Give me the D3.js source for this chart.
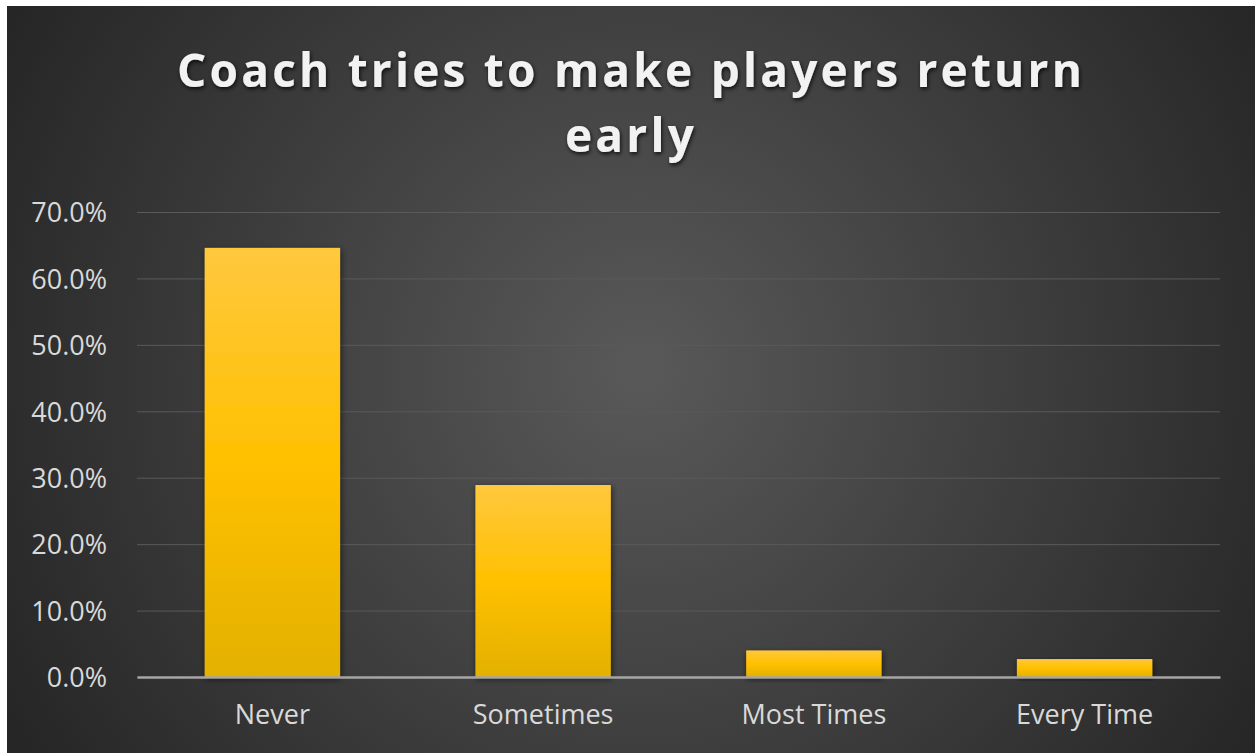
<!DOCTYPE html>
<html><head><meta charset="utf-8">
<script src="https://cdn.jsdelivr.net/npm/d3@7"></script>
<style>
html,body{margin:0;padding:0;background:#fff;}
svg{display:block;}
</style></head>
<body>
<script>
const categories = ["Never", "Sometimes", "Most Times", "Every Time"];
const values = [0.646, 0.289, 0.040, 0.027];
const yTicks = [0, 0.1, 0.2, 0.3, 0.4, 0.5, 0.6, 0.7];
const titleLines = ["Coach tries to make players return", "early"];

const W = 1255, H = 753;
const FONT = "'Open Sans', 'Noto Sans', sans-serif";
const svg = d3.select("body").append("svg").attr("width", W).attr("height", H);
const defs = svg.append("defs");

const bg = defs.append("radialGradient").attr("id", "bg")
  .attr("gradientUnits", "userSpaceOnUse")
  .attr("cx", 640).attr("cy", 370).attr("r", 720);
bg.append("stop").attr("offset", "0").attr("stop-color", "#595959");
bg.append("stop").attr("offset", "1").attr("stop-color", "#262626");

const bar = defs.append("linearGradient").attr("id", "bar")
  .attr("x1", 0).attr("y1", 0).attr("x2", 0).attr("y2", 1);
bar.append("stop").attr("offset", "0").attr("stop-color", "#ffc83e");
bar.append("stop").attr("offset", "0.5").attr("stop-color", "#ffc000");
bar.append("stop").attr("offset", "1").attr("stop-color", "#e3b100");

const sh = defs.append("filter").attr("id", "sh").attr("x", "-20%").attr("y", "-20%").attr("width", "140%").attr("height", "140%");
sh.append("feGaussianBlur").attr("in", "SourceAlpha").attr("stdDeviation", 3);
sh.append("feOffset").attr("dx", 1).attr("dy", 2).attr("result", "b");
sh.append("feComponentTransfer").append("feFuncA").attr("type", "linear").attr("slope", 0.6);
const m = sh.append("feMerge");
m.append("feMergeNode");
m.append("feMergeNode").attr("in", "SourceGraphic");

svg.append("rect").attr("x", 7).attr("y", 6).attr("width", W - 7).attr("height", H - 6).attr("fill", "url(#bg)");

const margin = {left: 137, right: 1220, top: 212, bottom: 677};
const x = d3.scaleBand().domain(categories).range([margin.left, margin.right]).paddingInner(0.5).paddingOuter(0.25);
const y = d3.scaleLinear().domain([0, 0.7]).range([margin.bottom, margin.top]);

// gridlines
const grid = svg.append("g").attr("transform", `translate(${margin.left},0)`)
  .call(d3.axisLeft(y).tickValues(yTicks).tickSize(-(margin.right - margin.left)).tickFormat(""));
grid.select(".domain").remove();
grid.selectAll("line").attr("stroke", "#5a5a5a").attr("stroke-width", 1);

// y labels
const yl = svg.append("g").attr("transform", `translate(107,0)`)
  .call(d3.axisLeft(y).tickValues(yTicks).tickSize(0).tickFormat(d3.format(".1%")));
yl.select(".domain").remove();
yl.selectAll("text").attr("fill", "#d9d9d9").attr("font-family", FONT)
  .attr("font-size", 27).attr("dy", "0.36em").attr("x", 0);

// bars
svg.append("g").selectAll("rect").data(categories).join("rect")
  .attr("x", d => x(d)).attr("width", x.bandwidth())
  .attr("y", (d, i) => y(values[i])).attr("height", (d, i) => y(0) - y(values[i]))
  .attr("fill", "url(#bar)").attr("filter", "url(#sh)");

// x axis
const xa = svg.append("g").attr("transform", `translate(0,${margin.bottom})`)
  .call(d3.axisBottom(x).tickSize(0));
xa.select(".domain").attr("stroke", "#a6a6a6").attr("stroke-width", 2.5);
xa.selectAll("text").attr("fill", "#d9d9d9").attr("font-family", FONT).attr("font-size", 27)
  .attr("y", 47).attr("dy", 0);

// title
const tf = defs.append("filter").attr("id", "tsh").attr("x", "-10%").attr("y", "-30%").attr("width", "120%").attr("height", "160%");
tf.append("feGaussianBlur").attr("in", "SourceAlpha").attr("stdDeviation", 2);
tf.append("feOffset").attr("dx", 1).attr("dy", 2);
tf.append("feComponentTransfer").append("feFuncA").attr("type", "linear").attr("slope", 0.8);
const tm = tf.append("feMerge");
tm.append("feMergeNode");
tm.append("feMergeNode").attr("in", "SourceGraphic");

const tt = svg.append("g").selectAll("text").data(titleLines).join("text")
  .attr("x", 631).attr("y", (d, i) => 87 + i * 65)
  .attr("text-anchor", "middle").attr("fill", "#f2f2f2")
  .attr("font-family", FONT).attr("font-weight", "bold")
  .attr("font-size", 46).attr("filter", "url(#tsh)")
  .text(d => d);
// fit letter spacing so that the first line spans the same width as the reference
const first = tt.nodes()[0];
const w0 = first.getComputedTextLength();
const ls = Math.max(0, (905 - w0) / (titleLines[0].length - 1));
tt.attr("letter-spacing", ls);
</script>
</body></html>
